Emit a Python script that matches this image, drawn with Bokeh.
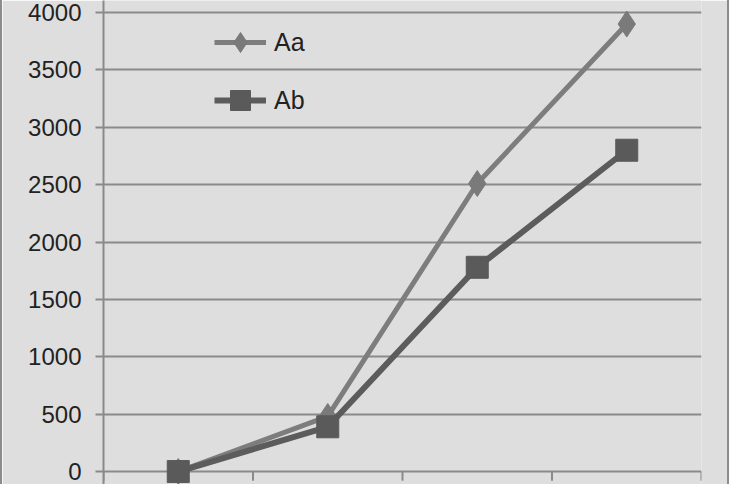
from bokeh.plotting import figure
from bokeh.models import FixedTicker, Range1d, Legend, LegendItem, ColumnDataSource
from bokeh.embed import file_html
from bokeh.resources import INLINE

# data
categories = [1, 2, 3, 4]
aa_values = [0, 480, 2510, 3900]
ab_values = [0, 390, 1780, 2800]
y_ticks = [0, 500, 1000, 1500, 2000, 2500, 3000, 3500, 4000]
series_names = ["Aa", "Ab"]

FONT = "Liberation Sans"
BG = "#dedede"
GRID = "#8a8a8a"

n = len(categories)
xs = [i + 0.5 for i in range(n)]

p = figure(width=729, height=484, output_backend="svg", toolbar_location=None,
           x_range=Range1d(0, n), y_range=Range1d(-113, 4105),
           min_border_left=101, min_border_right=30, min_border_top=0, min_border_bottom=0)

p.styles = {"border-left": "2px solid #8c8c8c", "border-right": "2px solid #8c8c8c"}

p.background_fill_color = BG
p.border_fill_color = BG
p.outline_line_color = None

p.xaxis.visible = False
p.xgrid.visible = False

p.yaxis.ticker = FixedTicker(ticks=y_ticks)
p.yaxis.axis_line_color = GRID
p.yaxis.axis_line_width = 2
p.yaxis.major_tick_line_color = GRID
p.yaxis.major_tick_line_width = 2
p.yaxis.major_tick_out = 8
p.yaxis.major_tick_in = 0
p.yaxis.minor_tick_line_color = None
p.yaxis.major_label_standoff = 14
p.yaxis.major_label_text_font = FONT
p.yaxis.major_label_text_font_size = "24px"
p.yaxis.major_label_text_color = "#222222"

p.ygrid.ticker = FixedTicker(ticks=y_ticks)
p.ygrid.grid_line_color = GRID
p.ygrid.grid_line_width = 2

# x-axis category boundary ticks below the zero line
bounds = list(range(n + 1))
p.segment(x0=bounds, x1=bounds, y0=[0] * len(bounds), y1=[-80] * len(bounds),
          line_color=GRID, line_width=2)

src_a = ColumnDataSource(dict(x=xs, y=aa_values))
src_b = ColumnDataSource(dict(x=xs, y=ab_values))

la = p.line("x", "y", source=src_a, line_color="#7d7d7d", line_width=5)
ma = p.scatter("x", "y", source=src_a, marker="diamond", size=26,
               fill_color="#7a7a7a", line_color="#7a7a7a")
lb = p.line("x", "y", source=src_b, line_color="#5c5c5c", line_width=6)
mb = p.scatter("x", "y", source=src_b, marker="square", size=22,
               fill_color="#5a5a5a", line_color="#5a5a5a")

legend = Legend(items=[LegendItem(label=series_names[0], renderers=[la, ma]),
                       LegendItem(label=series_names[1], renderers=[lb, mb])],
                location=(111, 359), padding=0, margin=0, spacing=8,
                glyph_width=52, glyph_height=50, label_standoff=8,
                label_text_font=FONT, label_text_font_size="25px",
                label_text_color="#222222",
                background_fill_alpha=0, border_line_color=None)
p.add_layout(legend)

open("out.html", "w").write(file_html(p, INLINE))
